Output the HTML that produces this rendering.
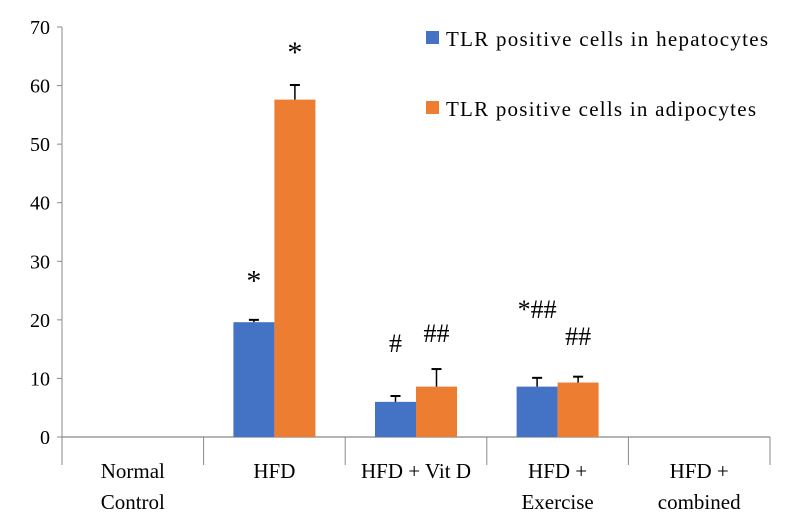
<!DOCTYPE html>
<html><head><meta charset="utf-8"><style>
body{margin:0;background:#fff;}
svg text{font-family:"Liberation Serif",serif;fill:#000;}
</style></head><body>
<svg id="chart" width="786" height="526">
<g id="axes"></g><g id="bars"></g><g id="labels"></g>
<g>
<rect x="426" y="31" width="13" height="13" fill="#4472c4"/>
<text x="446" y="46" font-size="21" textLength="322" lengthAdjust="spacing">TLR positive cells in hepatocytes</text>
<rect x="426" y="101" width="13" height="13" fill="#ed7d31"/>
<text x="446" y="116" font-size="21" textLength="310" lengthAdjust="spacing">TLR positive cells in adipocytes</text>
</g>
</svg>
<script>
const categories=[["Normal","Control"],["HFD"],["HFD + Vit D"],["HFD +","Exercise"],["HFD +","combined"]];
const hepatocytes=[0,19.6,6.0,8.6,0];
const hepErr=[0,0.4,1.0,1.5,0];
const adipocytes=[0,57.6,8.6,9.3,0];
const adiErr=[0,2.5,3.0,1.0,0];
const hepMarks=["","*","#","*##",""];
const adiMarks=["","*","##","##",""];
const hepMarkAt=[0,25,14.5,20.3,0];
const adiMarkAt=[0,64,16.2,15.7,0];
const yTicks=[0,10,20,30,40,50,60,70];

const NS="http://www.w3.org/2000/svg";
const x0=62,x1=770,y0=437,yTop=27,yMax=70;
const step=(x1-x0)/categories.length;
const y=v=>y0-(v/yMax)*(y0-yTop);
const cx=i=>x0+step*(i+0.5);
const bw=41;
function mk(tag,attrs,parent,name,txt){const e=document.createElementNS(NS,tag);for(const k in attrs)e.setAttribute(k,attrs[k]);


if(txt!==undefined)e.textContent=txt;parent.appendChild(e);return e;}
const axes=document.getElementById('axes'),bars=document.getElementById('bars'),labels=document.getElementById('labels');
mk('line',{x1:x0,y1:yTop,x2:x0,y2:y0,stroke:'#888','stroke-width':1},axes,'y-axis-line');
mk('line',{x1:x0,y1:y0,x2:x1,y2:y0,stroke:'#888','stroke-width':1.3},axes,'x-axis-line');
yTicks.forEach(t=>{
  mk('line',{x1:x0-5,y1:y(t),x2:x0,y2:y(t),stroke:'#888'},axes,'y-tick');
  mk('text',{x:x0-12,y:y(t)+7,'font-size':20,'text-anchor':'end'},axes,'y-tick-label',t);
});
for(let i=0;i<=categories.length;i++){
  mk('line',{x1:x0+step*i,y1:y0,x2:x0+step*i,y2:y0+28,stroke:'#888'},axes,'x-tick');
}
categories.forEach((c,i)=>{
  c.forEach((ln,j)=>mk('text',{x:cx(i),y:y0+41+j*31,'font-size':21,'text-anchor':'middle'},labels,'x-category-label',ln));
  [[hepatocytes,hepErr,hepMarks,hepMarkAt,'#4472c4',-bw],[adipocytes,adiErr,adiMarks,adiMarkAt,'#ed7d31',0]].forEach(([vals,err,marks,at,col,off],s)=>{
    const v=vals[i];
    if(v>0){
      const bx=cx(i)+off;
      mk('rect',{x:bx,y:y(v),width:bw,height:y0-y(v),fill:col},bars,s?'bar-adipocytes':'bar-hepatocytes');
      const mx=bx+bw/2;
      mk('line',{x1:mx,y1:y(v),x2:mx,y2:y(v+err[i]),stroke:'#000','stroke-width':1.5},bars,'error-bar');
      mk('line',{x1:mx-5,y1:y(v+err[i]),x2:mx+5,y2:y(v+err[i]),stroke:'#000','stroke-width':2},bars,'error-cap');
    }
    if(marks[i]){
      const isStar=marks[i]==='*';
      mk('text',{x:cx(i)+off+bw/2,y:y(at[i]),'font-size':isStar?30:26,'text-anchor':'middle'},labels,'significance-mark',marks[i]);
    }
  });
});
</script>
</body></html>
